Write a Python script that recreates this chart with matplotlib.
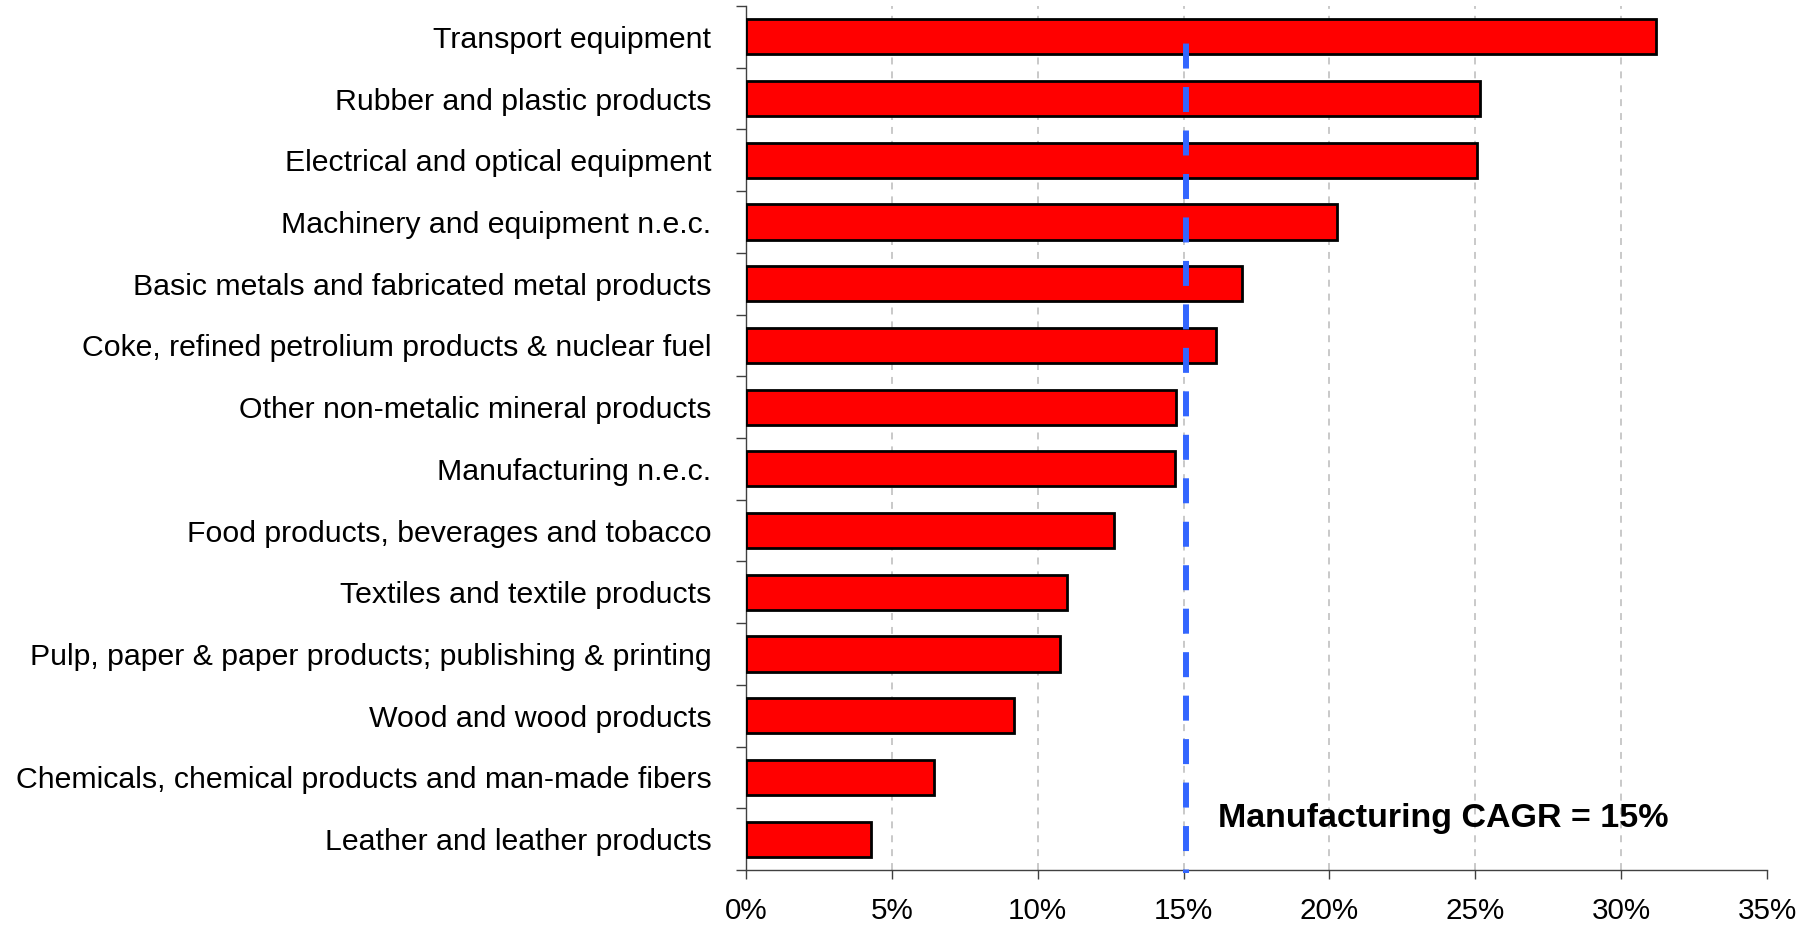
import matplotlib
matplotlib.use("Agg")
import matplotlib.pyplot as plt
import numpy as np

plt.rcParams['font.family'] = ['Liberation Sans', 'DejaVu Sans']
plt.rcParams['lines.scale_dashes'] = False

categories = [
    "Transport equipment",
    "Rubber and plastic products",
    "Electrical and optical equipment",
    "Machinery and equipment n.e.c.",
    "Basic metals and fabricated metal products",
    "Coke, refined petrolium products & nuclear fuel",
    "Other non-metalic mineral products",
    "Manufacturing n.e.c.",
    "Food products, beverages and tobacco",
    "Textiles and textile products",
    "Pulp, paper & paper products; publishing & printing",
    "Wood and wood products",
    "Chemicals, chemical products and man-made fibers",
    "Leather and leather products",
]
cagr_values = [31.2, 25.15, 25.05, 20.25, 17.0, 16.1, 14.75, 14.7,
               12.6, 11.0, 10.75, 9.2, 6.45, 4.3]
manufacturing_cagr = 15.1
annotation_text = "Manufacturing CAGR = 15%"
x_ticks = [0, 5, 10, 15, 20, 25, 30, 35]
x_tick_labels = [f"{v}%" for v in x_ticks]

W, H = 1801, 926
fig = plt.figure(figsize=(W / 100, H / 100), dpi=100)
ax = fig.add_axes([746 / W, 56 / H, 1021 / W, 864 / H])

n = len(categories)
y = np.arange(n)

ax.barh(y, cagr_values, height=0.57, color='#FF0000', edgecolor='black',
        linewidth=2.0, zorder=3)

ax.set_xlim(0, 35)
ax.set_ylim(n - 0.5, -0.5)

# x axis
ax.set_xticks(x_ticks)
ax.set_xticklabels(x_tick_labels, fontsize=21.3)
ax.tick_params(axis='x', length=6.5, width=1, color='#404040', pad=13)

# y axis: ticks at category boundaries, labels at centers
ax.set_yticks(np.arange(-0.5, n, 1.0))
ax.set_yticklabels([])
ax.tick_params(axis='y', which='major', length=7, width=1, color='#404040')
ax.set_yticks(y, minor=True)
ax.set_yticklabels(categories, minor=True, fontsize=21.8)
ax.tick_params(axis='y', which='minor', length=0, pad=25)

for s in ['top', 'right']:
    ax.spines[s].set_visible(False)
for s in ['left', 'bottom']:
    ax.spines[s].set_color('#404040')
    ax.spines[s].set_linewidth(1.0)

ax.grid(axis='x', which='major', color='#c0c0c0', linestyle=(0, (5, 5)),
        linewidth=1.2, zorder=0)
ax.set_axisbelow(True)
gl = ax.xaxis.get_gridlines()
gl[0].set_visible(False)
gl[-1].set_visible(False)

# manufacturing CAGR reference line
trans = ax.get_xaxis_transform()
ax.plot([manufacturing_cagr, manufacturing_cagr], [-0.0035, 0.957],
        transform=trans, color='#3366FF', linewidth=4.3,
        linestyle=(15.5, (18, 13.3)), dash_capstyle='butt',
        solid_capstyle='butt', clip_on=False, zorder=5)

ax.text(manufacturing_cagr + 1.08, 12.80, annotation_text, fontsize=24.5,
        fontweight='bold', va='baseline', ha='left', zorder=6)

fig.savefig("out.png", dpi=100)
